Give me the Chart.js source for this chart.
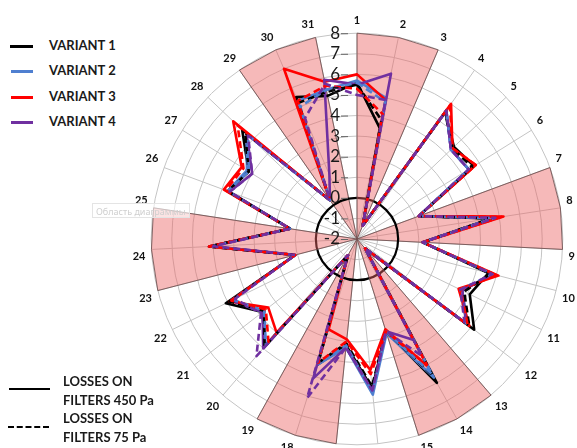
<!DOCTYPE html>
<html>
<head>
<meta charset="utf-8">
<script src="https://cdn.jsdelivr.net/npm/chart.js@4.4.1/dist/chart.umd.min.js"></script>
<style>
  html, body { margin: 0; padding: 0; background: #fff; width: 577px; height: 448px; overflow: hidden; }
  #wrap { position: absolute; left: 129px; top: 14px; width: 450px; height: 450px; }
  .leg { position: absolute; font-family: Lato, "Liberation Sans", sans-serif; font-weight: 700; font-size: 13px; color: #1a1a1a; white-space: nowrap; z-index: 2; }
  .sw { position: absolute; height: 0; z-index: 2; }
  .tip { position: absolute; left: 92px; top: 203px; width: 98px; height: 15px; border: 1px solid #e4e4e4; background: rgba(255,255,255,0.6);
         font-family: "Noto Sans", sans-serif; font-size: 9px; line-height: 15px; color: #cfcfcf; padding-left: 3px; box-sizing: border-box; z-index: 1; }
</style>
</head>
<body>
<div id="wrap"><canvas id="c"></canvas></div>

<div class="sw" style="left:10px;top:45px;width:23px;border-top:3px solid #000"></div>
<div class="leg" style="left:49px;top:37px">VARIANT 1</div>
<div class="sw" style="left:11px;top:70px;width:22px;border-top:3px solid #4f7fd0"></div>
<div class="leg" style="left:49px;top:62px">VARIANT 2</div>
<div class="sw" style="left:11px;top:96px;width:22px;border-top:3px solid #ff0000"></div>
<div class="leg" style="left:49px;top:88px">VARIANT 3</div>
<div class="sw" style="left:11px;top:121px;width:22px;border-top:3px solid #7030a0"></div>
<div class="leg" style="left:49px;top:113px">VARIANT 4</div>

<div class="sw" style="left:9px;top:388px;width:41px;border-top:2px solid #000"></div>
<div class="leg" style="left:63px;top:372px;line-height:19px">LOSSES ON<br>FILTERS 450 Pa</div>
<div class="sw" style="left:8px;top:426px;width:41px;border-top:2px dashed #000"></div>
<div class="leg" style="left:63px;top:409px;line-height:19px">LOSSES ON<br>FILTERS 75 Pa</div>

<div class="tip">Область диаграммы</div>

<script>
// Directions 1..31 around the dial
const categories = Array.from({ length: 31 }, (_, i) => String(i + 1));

// Radial value range and numbered rings
const radialTicks = [-2, -1, 0, 1, 2, 3, 4, 5, 6, 7, 8];

// Shaded direction groups (drawn as two layers so neighbouring groups never join)
const shadedGroupA = [1, 2, 3, 13, 14, 15, 23, 24, 25];
const shadedGroupB = [7, 8, 9, 17, 18, 19, 29, 30, 31];

// Losses on filters 450 Pa
const variant1Loss450 = [5.6, 3.5, -1.3, 5.5, 4.5, 4.7, 1.2, 4.6, 1.2, 4.6, 4.1, 5.2, -1.4, 6.0, 2.7, 5.3, 3.2, 4.4, -1.1, 4.9, 3.8, 5.1, 1.1, 5.2, 1.3, 4.7, 4.2, 5.7, 0.3, 5.5, 5.1];
const variant2Loss450 = [5.7, 5.0, -1.3, 5.6, 4.3, 4.4, 1.2, 4.7, 1.2, 4.8, 3.7, 4.8, -1.4, 5.7, 2.8, 5.6, 3.3, 4.4, -1.1, 4.8, 3.8, 4.8, 1.1, 5.2, 1.3, 4.7, 4.3, 5.4, 0.3, 5.3, 5.4];
const variant3Loss450 = [6.0, 4.9, -1.3, 6.0, 4.4, 4.8, 1.2, 5.2, 1.2, 5.1, 3.5, 4.9, -1.4, 5.1, 2.6, 4.4, 2.9, 2.6, -1.1, 4.0, 3.45, 4.9, 1.1, 5.2, 1.3, 4.9, 4.6, 6.3, 0.3, 7.0, 5.8];
const variant4Loss450 = [5.5, 6.2, -1.3, 5.6, 4.3, 4.4, 1.2, 4.8, 1.2, 4.8, 3.7, 4.7, -1.4, 3.6, 2.7, 5.4, 3.3, 5.1, -1.1, 5.0, 3.8, 4.8, 1.1, 5.0, 1.3, 4.6, 4.0, 5.4, 0.3, 1.4, 5.9];

// Losses on filters 75 Pa
const variant1Loss75 = [5.5, 3.9, -1.3, 5.5, 4.4, 4.6, 1.2, 4.6, 1.2, 4.7, 3.8, 4.9, -1.4, 5.6, 2.7, 5.2, 3.1, 4.3, -1.1, 4.9, 3.7, 4.9, 1.1, 5.2, 1.3, 4.7, 4.2, 5.5, 0.3, 5.2, 5.3];
const variant2Loss75 = [5.6, 4.8, -1.3, 5.6, 4.3, 4.4, 1.2, 4.7, 1.2, 4.8, 3.6, 4.7, -1.4, 5.5, 2.7, 5.5, 3.2, 4.3, -1.1, 4.8, 3.7, 4.7, 1.1, 5.1, 1.3, 4.7, 4.2, 5.3, 0.3, 5.0, 5.4];
const variant3Loss75 = [5.3, 4.2, -1.3, 5.9, 4.4, 4.8, 1.2, 5.1, 1.2, 5.0, 3.6, 4.8, -1.4, 5.0, 2.7, 4.6, 3.0, 4.3, -1.1, 4.6, 3.6, 4.8, 1.1, 5.2, 1.3, 4.8, 4.5, 6.0, 0.3, 5.3, 5.6];
const variant4Loss75 = [5.0, 4.9, -1.3, 5.6, 4.3, 4.4, 1.2, 4.8, 1.2, 4.8, 3.6, 4.6, -1.4, 4.5, 2.7, 5.4, 3.3, 6.1, -1.1, 5.5, 3.9, 4.6, 1.1, 5.0, 1.3, 4.6, 4.0, 5.3, 0.3, 4.4, 5.7];

const rMin = radialTicks[0];
const rMax = radialTicks[radialTicks.length - 1];

const sectorData = group => categories.map(c => (group.includes(Number(c)) ? rMax : rMin));

const sectorStyle = {
  fill: 'start',
  backgroundColor: 'rgba(235, 100, 100, 0.45)',
  borderColor: 'rgba(110, 80, 80, 0.85)',
  borderWidth: 1,
  pointRadius: 0,
  order: 100
};

const seriesLine = (data, color, dashed) => ({
  data,
  borderColor: color,
  borderWidth: 2.6,
  borderDash: dashed ? [7, 4] : [],
  borderJoinStyle: 'round',
  fill: false,
  pointRadius: 0,
  tension: 0
});

// Thick ring at zero and the numbered axis on the vertical spoke
const zeroRingAndAxis = {
  id: 'zeroRingAndAxis',
  afterDatasetDraw(chart, args) {
    if (args.index !== 1) return;
    const s = chart.scales.r;
    const ctx = chart.ctx;
    ctx.save();
    ctx.beginPath();
    ctx.arc(s.xCenter, s.yCenter, s.getDistanceFromCenterForValue(0), 0, Math.PI * 2);
    ctx.strokeStyle = '#000';
    ctx.lineWidth = 2.2;
    ctx.stroke();
    ctx.restore();
  },
  afterDatasetsDraw(chart) {
    const s = chart.scales.r;
    const ctx = chart.ctx;
    ctx.save();
    ctx.font = '17px Lato, "Liberation Sans", sans-serif';
    ctx.fillStyle = '#1a1a1a';
    ctx.textAlign = 'right';
    ctx.textBaseline = 'middle';
    ctx.strokeStyle = '#666';
    ctx.lineWidth = 1;
    radialTicks.forEach(v => {
      const y = s.yCenter - s.getDistanceFromCenterForValue(v);
      ctx.fillText(String(v), s.xCenter - 17, y);
      ctx.beginPath();
      ctx.moveTo(s.xCenter - 16, y + 0.5);
      ctx.lineTo(s.xCenter - 9, y + 0.5);
      ctx.stroke();
    });
    ctx.restore();
  }
};

new Chart(document.getElementById('c'), {
  type: 'radar',
  data: {
    labels: categories,
    datasets: [
      Object.assign({ data: sectorData(shadedGroupA) }, sectorStyle),
      Object.assign({ data: sectorData(shadedGroupB) }, sectorStyle),
      Object.assign(seriesLine(variant1Loss450, '#000000', false), { order: 9 }),
      Object.assign(seriesLine(variant2Loss450, '#4f7fd0', false), { order: 8 }),
      Object.assign(seriesLine(variant3Loss450, '#ff0000', false), { order: 7 }),
      Object.assign(seriesLine(variant4Loss450, '#7030a0', false), { order: 6 }),
      Object.assign(seriesLine(variant1Loss75, '#000000', true), { order: 5 }),
      Object.assign(seriesLine(variant2Loss75, '#4f7fd0', true), { order: 4 }),
      Object.assign(seriesLine(variant3Loss75, '#ff0000', true), { order: 3 }),
      Object.assign(seriesLine(variant4Loss75, '#7030a0', true), { order: 2 })
    ]
  },
  options: {
    responsive: true,
    maintainAspectRatio: false,
    animation: false,
    layout: { padding: 0 },
    plugins: { legend: { display: false }, tooltip: { enabled: false } },
    scales: {
      r: {
        min: rMin,
        max: rMax,
        ticks: { display: false, stepSize: 1 },
        grid: { circular: true, color: '#c4c4c4', lineWidth: 1 },
        angleLines: { color: '#c4c4c4', lineWidth: 1 },
        pointLabels: {
          display: true,
          padding: 6,
          color: '#111',
          font: { family: 'Lato, "Liberation Sans", sans-serif', weight: '700', size: 11 }
        }
      }
    }
  },
  plugins: [zeroRingAndAxis]
});
</script>
</body>
</html>
